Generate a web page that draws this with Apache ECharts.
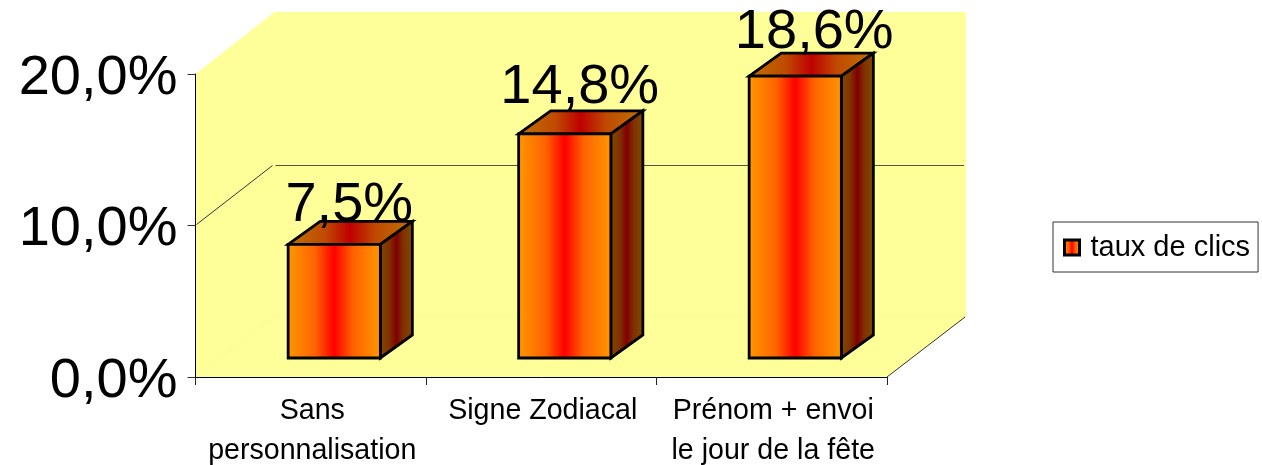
<!DOCTYPE html>
<html>
<head>
<meta charset="utf-8">
<style>html,body{margin:0;padding:0;background:#fff}#c{width:1262px;height:465px}</style>
<script src="https://cdn.jsdelivr.net/npm/echarts@6/dist/echarts.min.js"></script>
</head>
<body>
<div id="c"></div>
<script>
const categories = ['Sans\npersonnalisation', 'Signe Zodiacal', 'Prénom + envoi\nle jour de la fête'];
const seriesName = 'taux de clics';
const clickRates = [7.5, 14.8, 18.6];
const gridValues = [10];

// Oblique projection of the chart box and of each bar inside it
const DEPTH = [79, -61];
const BAR_DEPTH = [32, -23];
const BAR_INSET = [(DEPTH[0] - BAR_DEPTH[0]) / 2, (DEPTH[1] - BAR_DEPTH[1]) / 2];
// Fine placement of the value labels above each bar, in pixels
const LABEL_SHIFT = [[-1, 12], [-1, 5], [3, 7]];
const FONT = '"Liberation Sans", Arial, sans-serif';

const G = echarts.graphic;
const band = (edge, near, mid) => new G.LinearGradient(0, 0, 1, 0, [
  { offset: 0, color: edge }, { offset: 0.3, color: near }, { offset: 0.5, color: mid },
  { offset: 0.7, color: near }, { offset: 1, color: edge }
]);
const pct = v => v.toFixed(1).replace('.', ',') + '%';

function poly(points, style) {
  return { type: 'polygon', shape: { points }, style };
}
function seg(a, b, stroke, lineWidth) {
  return { type: 'line', shape: { x1: a[0], y1: a[1], x2: b[0], y2: b[1] }, style: { stroke, lineWidth } };
}

function renderBox(params, api) {
  const r = params.coordSys;
  const L = r.x, R = r.x + r.width, T = r.y, B = r.y + r.height;
  const [dx, dy] = DEPTH;
  const wall = '#FFFF99';
  const seam = '#FAFA98';
  const children = [
    poly([[L, T], [L + dx, T + dy - 1], [R + dx, T + dy - 1], [R + dx, B + dy + 1], [R, B], [L, B]], { fill: wall }),
    seg([L, B], [L + dx, B + dy], seam, 1),
    seg([L + dx, B + dy + 0.5], [R + dx, B + dy + 0.5], seam, 1),
    seg([R, B], [R + dx - 1, B + dy + 1], '#333333', 1)
  ];
  gridValues.forEach(v => {
    const y = api.coord([0, v])[1];
    children.push(seg([L + 1, y - 1], [L + dx - 2, y + dy + 1], '#333333', 1));
    children.push(seg([L + dx + 1, y + dy + 1], [R + dx - 2, y + dy + 1], '#55553f', 1));
  });
  return { type: 'group', children };
}

function renderBar(params, api) {
  const i = api.value(0);
  const base = api.coord([i, 0]);
  const top = api.coord([i, api.value(1)]);
  const w = api.size([1, 0])[0] / 2.5;
  const x0 = base[0] + BAR_INSET[0] - w / 2, x1 = x0 + w;
  const yB = base[1] + BAR_INSET[1], yT = top[1] + BAR_INSET[1];
  const [bx, by] = BAR_DEPTH;
  const edge = { stroke: '#000', lineWidth: 2.8, lineJoin: 'miter' };
  return {
    type: 'group',
    children: [
      poly([[x0, yT], [x0 + bx, yT + by], [x1 + bx, yT + by], [x1, yT]],
        Object.assign({ fill: band('#C07300', '#BF4A00', '#BF0000') }, edge)),
      poly([[x1, yT], [x1 + bx, yT + by], [x1 + bx, yB + by], [x1, yB]],
        Object.assign({ fill: band('#804D00', '#803100', '#800000') }, edge)),
      poly([[x0, yT], [x1, yT], [x1, yB], [x0, yB]],
        Object.assign({ fill: band('#FF9900', '#FF6300', '#FF0000') }, edge)),
      {
        type: 'text', z2: 50,
        style: {
          text: pct(api.value(1)),
          x: (x0 + x1 + bx) / 2 + LABEL_SHIFT[i][0],
          y: yT + by + LABEL_SHIFT[i][1],
          align: 'center', verticalAlign: 'bottom', fill: '#000', font: '56px ' + FONT
        }
      }
    ]
  };
}

const chart = echarts.init(document.getElementById('c'), null, { renderer: 'canvas' });
chart.setOption({
  animation: false,
  backgroundColor: '#fff',
  grid: { left: 195.5, top: 74, width: 691.5, height: 303, outerBoundsMode: 'none' },
  xAxis: {
    type: 'category', data: categories, z: 3,
    axisLine: { lineStyle: { color: '#000', width: 1 } },
    axisTick: { show: true, length: 8, alignWithLabel: false, lineStyle: { color: '#222' } },
    axisLabel: { color: '#000', fontFamily: FONT, fontSize: 28.6, lineHeight: 40, margin: 14, interval: 0, padding: [0, 0, 0, 3] }
  },
  yAxis: {
    type: 'value', min: 0, max: 20, interval: 10, z: 3,
    splitLine: { show: false },
    axisLine: { show: true, lineStyle: { color: '#000', width: 1 } },
    axisTick: { show: true, length: 8, lineStyle: { color: '#333' } },
    axisLabel: {
      color: '#000', fontFamily: FONT, fontSize: 56, margin: 18,
      verticalAlign: 'top', lineHeight: 9, formatter: pct
    }
  },
  legend: {
    data: [{ name: seriesName, icon: 'rect', itemStyle: { color: band('#FF9900', '#FF6300', '#FF0000'), borderColor: '#000', borderWidth: 3 } }],
    left: 1053, top: 222, orient: 'horizontal',
    padding: [11, 8, 10, 10], itemWidth: 15, itemHeight: 15,
    borderColor: '#333', borderWidth: 1, backgroundColor: '#fff',
    textStyle: { color: '#000', fontFamily: FONT, fontSize: 29, padding: [0, 0, 0, 6] }
  },
  series: [
    { type: 'custom', name: 'box', z: 1, silent: true, clip: false, renderItem: renderBox, data: [[0, 0]] },
    { type: 'custom', name: seriesName, z: 4, clip: false, renderItem: renderBar,
      encode: { x: 0, y: 1 }, data: clickRates.map((v, i) => [i, v]) }
  ]
});
</script>
</body>
</html>
